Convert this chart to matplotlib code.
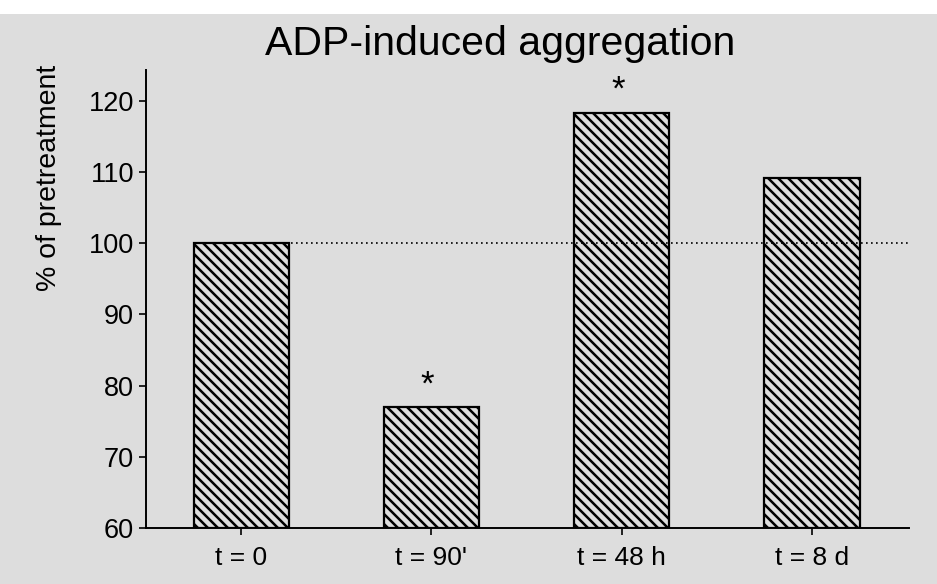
import matplotlib
matplotlib.use('Agg')
import matplotlib.pyplot as plt
from matplotlib.patches import Rectangle

plt.rcParams['font.family'] = ['Liberation Sans', 'DejaVu Sans']

labels = ["t = 0", "t = 90'", "t = 48 h", "t = 8 d"]
values = [100, 77, 118.3, 109.1]
signif = [False, True, True, False]
yticks = [60, 70, 80, 90, 100, 110, 120]

bg = '#dddddd'

# hatch spacing follows dpi, so draw at 90 dpi and scale sizes in points
DPI = 90
S = 100 / DPI
plt.rcParams['hatch.linewidth'] = 1.8 * S

fig = plt.figure(figsize=(937 / DPI, 584 / DPI), dpi=DPI, facecolor=bg)
# white strip at the top of the scan
fig.patches.append(Rectangle((0, 1 - 14 / 584), 1, 14 / 584, transform=fig.transFigure,
                             facecolor='white', edgecolor='none', zorder=0))

ax = fig.add_axes([146 / 937, 1 - 528 / 584, (909 - 146) / 937, (528 - 70) / 584])
ax.set_facecolor('none')

x = list(range(len(values)))
ax.hlines(100, 0, 3.55, colors='black', linestyles=(0, (1, 2)), linewidth=1.2 * S, zorder=1)
ax.bar(x, [v - 60 for v in values], bottom=60, width=0.5, facecolor='none',
       edgecolor='black', linewidth=1.6 * S, hatch='\\\\\\', zorder=2)

for xi, v, s in zip(x, values, signif):
    if s:
        ax.text(xi - 0.02, v + 0.8, '*', ha='center', va='bottom', fontsize=25 * S)

ax.set_xlim(-0.5, 3.51)
ax.set_ylim(60, 124.3)
ax.set_yticks(yticks)
ax.set_xticks(x)
ax.set_xticklabels(labels)
ax.tick_params(axis='both', labelsize=19.5 * S, length=5 * S, width=1.2 * S,
               pad=3.5 * S, direction='out')
ax.tick_params(axis='x', labelsize=19 * S, pad=8 * S)

for side in ['top', 'right']:
    ax.spines[side].set_visible(False)
for side in ['left', 'bottom']:
    ax.spines[side].set_linewidth(1.4 * S)

ax.set_ylabel("% of pretreatment", fontsize=20.5 * S)
ax.yaxis.set_label_coords(-0.110, 0.764)
fig.text(500 / 937, 1 - 44 / 584, "ADP-induced aggregation", ha='center', va='center',
         fontsize=29.5 * S)

fig.savefig('out.png', dpi=DPI, facecolor=bg)
